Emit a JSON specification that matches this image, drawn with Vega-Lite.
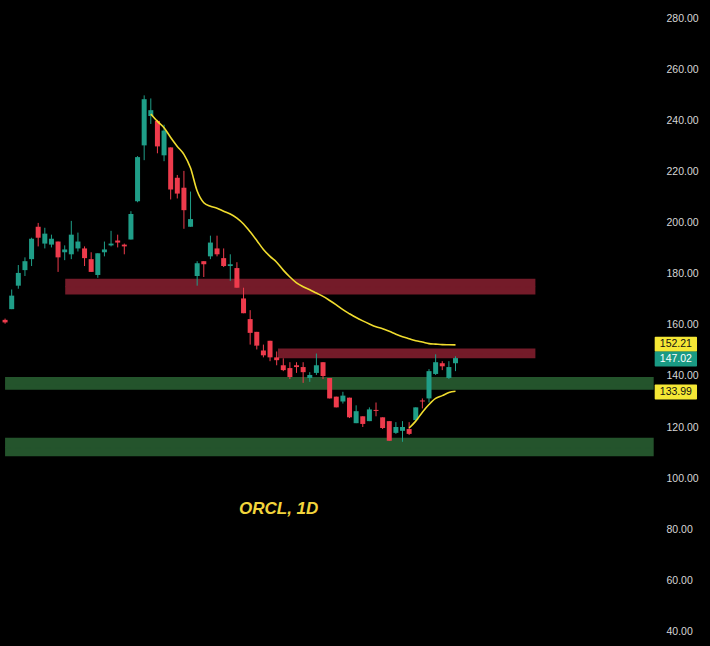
{
  "$schema": "https://vega.github.io/schema/vega-lite/v6.json",
  "width": 700,
  "height": 636,
  "autosize": {"type": "none"},
  "padding": 5,
  "background": "#000000",
  "view": {"stroke": null},
  "config": {"font": "Liberation Sans"},
  "datasets": {
    "candles": [
      {"i": 0, "o": 162.0, "h": 162.5, "l": 160.5, "c": 161.0},
      {"i": 1, "o": 166.2, "h": 173.9, "l": 166.2, "c": 171.5},
      {"i": 2, "o": 175.4, "h": 183.5, "l": 174.2, "c": 180.4},
      {"i": 3, "o": 181.5, "h": 186.5, "l": 179.2, "c": 185.0},
      {"i": 4, "o": 185.8, "h": 194.2, "l": 183.1, "c": 193.8},
      {"i": 5, "o": 198.5, "h": 200.0, "l": 190.8, "c": 194.2},
      {"i": 6, "o": 191.9, "h": 198.1, "l": 190.0, "c": 195.8},
      {"i": 7, "o": 191.5, "h": 195.4, "l": 190.4, "c": 193.8},
      {"i": 8, "o": 192.7, "h": 192.7, "l": 180.8, "c": 186.5},
      {"i": 9, "o": 188.5, "h": 191.2, "l": 185.4, "c": 189.6},
      {"i": 10, "o": 187.7, "h": 200.8, "l": 185.8, "c": 195.4},
      {"i": 11, "o": 190.0, "h": 196.2, "l": 188.8, "c": 192.7},
      {"i": 12, "o": 190.0, "h": 190.8, "l": 183.1, "c": 186.2},
      {"i": 13, "o": 185.8, "h": 188.5, "l": 180.8, "c": 180.8},
      {"i": 14, "o": 179.6, "h": 188.1, "l": 178.5, "c": 188.1},
      {"i": 15, "o": 188.5, "h": 192.7, "l": 186.9, "c": 189.6},
      {"i": 16, "o": 191.2, "h": 196.9, "l": 190.8, "c": 191.9},
      {"i": 17, "o": 193.1, "h": 195.4, "l": 190.4, "c": 192.3},
      {"i": 18, "o": 191.5, "h": 191.9, "l": 187.7, "c": 190.8},
      {"i": 19, "o": 193.5, "h": 204.6, "l": 193.5, "c": 203.5},
      {"i": 20, "o": 208.5, "h": 226.2, "l": 208.1, "c": 225.8},
      {"i": 21, "o": 230.4, "h": 250.0, "l": 224.6, "c": 248.5},
      {"i": 22, "o": 241.9, "h": 248.8, "l": 238.8, "c": 244.2},
      {"i": 23, "o": 240.0, "h": 240.4, "l": 227.3, "c": 230.0},
      {"i": 24, "o": 226.5, "h": 238.5, "l": 224.2, "c": 236.2},
      {"i": 25, "o": 229.6, "h": 229.6, "l": 209.2, "c": 213.1},
      {"i": 26, "o": 217.7, "h": 218.8, "l": 209.6, "c": 211.5},
      {"i": 27, "o": 213.8, "h": 220.4, "l": 197.7, "c": 205.0},
      {"i": 28, "o": 198.5, "h": 212.3, "l": 198.5, "c": 201.5},
      {"i": 29, "o": 179.2, "h": 185.0, "l": 175.4, "c": 184.2},
      {"i": 30, "o": 185.0, "h": 185.0, "l": 178.8, "c": 183.8},
      {"i": 31, "o": 186.9, "h": 195.0, "l": 185.8, "c": 192.3},
      {"i": 32, "o": 190.0, "h": 195.0, "l": 186.9, "c": 187.7},
      {"i": 33, "o": 186.2, "h": 190.0, "l": 182.7, "c": 183.1},
      {"i": 34, "o": 183.1, "h": 187.7, "l": 177.3, "c": 183.8},
      {"i": 35, "o": 182.3, "h": 184.6, "l": 174.6, "c": 174.6},
      {"i": 36, "o": 170.4, "h": 174.6, "l": 164.6, "c": 164.6},
      {"i": 37, "o": 162.3, "h": 165.8, "l": 152.3, "c": 156.9},
      {"i": 38, "o": 157.3, "h": 157.3, "l": 150.4, "c": 151.9},
      {"i": 39, "o": 150.0, "h": 152.3, "l": 147.3, "c": 148.1},
      {"i": 40, "o": 153.8, "h": 153.8, "l": 145.8, "c": 147.3},
      {"i": 41, "o": 147.3, "h": 149.6, "l": 144.2, "c": 146.2},
      {"i": 42, "o": 144.2, "h": 146.9, "l": 141.9, "c": 142.3},
      {"i": 43, "o": 143.1, "h": 145.4, "l": 138.8, "c": 139.6},
      {"i": 44, "o": 144.2, "h": 145.4, "l": 141.2, "c": 143.5},
      {"i": 45, "o": 143.5, "h": 145.4, "l": 137.3, "c": 141.5},
      {"i": 46, "o": 139.2, "h": 141.5, "l": 137.7, "c": 140.4},
      {"i": 47, "o": 141.2, "h": 148.8, "l": 140.4, "c": 144.2},
      {"i": 48, "o": 145.4, "h": 145.4, "l": 138.8, "c": 140.0},
      {"i": 49, "o": 139.2, "h": 139.2, "l": 131.2, "c": 131.2},
      {"i": 50, "o": 131.9, "h": 131.9, "l": 127.7, "c": 127.7},
      {"i": 51, "o": 130.0, "h": 133.8, "l": 129.2, "c": 132.3},
      {"i": 52, "o": 131.5, "h": 131.5, "l": 123.5, "c": 123.8},
      {"i": 53, "o": 121.5, "h": 128.5, "l": 121.5, "c": 126.2},
      {"i": 54, "o": 124.2, "h": 124.2, "l": 120.0, "c": 121.2},
      {"i": 55, "o": 122.3, "h": 127.7, "l": 122.3, "c": 126.9},
      {"i": 56, "o": 126.7, "h": 129.6, "l": 124.2, "c": 126.3},
      {"i": 57, "o": 123.8, "h": 123.8, "l": 119.2, "c": 119.6},
      {"i": 58, "o": 122.3, "h": 122.3, "l": 114.6, "c": 114.6},
      {"i": 59, "o": 117.7, "h": 121.9, "l": 117.3, "c": 120.0},
      {"i": 60, "o": 118.5, "h": 122.3, "l": 114.2, "c": 120.0},
      {"i": 61, "o": 119.2, "h": 121.9, "l": 116.9, "c": 117.3},
      {"i": 62, "o": 122.7, "h": 127.7, "l": 122.3, "c": 127.7},
      {"i": 63, "o": 130.4, "h": 131.2, "l": 127.3, "c": 130.0},
      {"i": 64, "o": 131.2, "h": 142.7, "l": 129.6, "c": 141.9},
      {"i": 65, "o": 140.8, "h": 148.5, "l": 140.4, "c": 145.4},
      {"i": 66, "o": 145.0, "h": 145.8, "l": 142.3, "c": 143.8},
      {"i": 67, "o": 139.2, "h": 145.8, "l": 138.8, "c": 143.5},
      {"i": 68, "o": 145.0, "h": 147.7, "l": 141.9, "c": 147.02}
    ],
    "ma": [
      {"s": "a", "i": 22, "v": 242.7}, {"s": "a", "i": 23, "v": 239.8},
      {"s": "a", "i": 24, "v": 237.3}, {"s": "a", "i": 25, "v": 233.5},
      {"s": "a", "i": 26, "v": 230.0}, {"s": "a", "i": 27, "v": 226.9},
      {"s": "a", "i": 28, "v": 221.5}, {"s": "a", "i": 29, "v": 212.5},
      {"s": "a", "i": 30, "v": 207.9}, {"s": "a", "i": 31, "v": 206.5},
      {"s": "a", "i": 32, "v": 205.8}, {"s": "a", "i": 33, "v": 204.6},
      {"s": "a", "i": 34, "v": 203.5}, {"s": "a", "i": 35, "v": 201.9},
      {"s": "a", "i": 36, "v": 199.6}, {"s": "a", "i": 37, "v": 196.5},
      {"s": "a", "i": 38, "v": 193.1}, {"s": "a", "i": 39, "v": 189.6},
      {"s": "a", "i": 40, "v": 186.9}, {"s": "a", "i": 41, "v": 184.6},
      {"s": "a", "i": 42, "v": 181.5}, {"s": "a", "i": 43, "v": 178.8},
      {"s": "a", "i": 44, "v": 176.5}, {"s": "a", "i": 45, "v": 175.0},
      {"s": "a", "i": 46, "v": 173.8}, {"s": "a", "i": 47, "v": 172.5},
      {"s": "a", "i": 48, "v": 171.2}, {"s": "a", "i": 49, "v": 169.6},
      {"s": "a", "i": 50, "v": 167.9}, {"s": "a", "i": 51, "v": 166.0},
      {"s": "a", "i": 52, "v": 164.4}, {"s": "a", "i": 53, "v": 162.9},
      {"s": "a", "i": 54, "v": 161.6}, {"s": "a", "i": 55, "v": 160.4},
      {"s": "a", "i": 56, "v": 159.3}, {"s": "a", "i": 57, "v": 158.5},
      {"s": "a", "i": 58, "v": 157.5}, {"s": "a", "i": 59, "v": 156.4},
      {"s": "a", "i": 60, "v": 155.4}, {"s": "a", "i": 61, "v": 154.6},
      {"s": "a", "i": 62, "v": 153.8}, {"s": "a", "i": 63, "v": 153.3},
      {"s": "a", "i": 64, "v": 152.7}, {"s": "a", "i": 65, "v": 152.5},
      {"s": "a", "i": 66, "v": 152.3}, {"s": "a", "i": 67, "v": 152.25},
      {"s": "a", "i": 68, "v": 152.21},
      {"s": "b", "i": 61, "v": 119.6}, {"s": "b", "i": 62, "v": 122.3},
      {"s": "b", "i": 63, "v": 125.8}, {"s": "b", "i": 64, "v": 128.8},
      {"s": "b", "i": 65, "v": 131.2}, {"s": "b", "i": 66, "v": 132.3},
      {"s": "b", "i": 67, "v": 133.5}, {"s": "b", "i": 68, "v": 133.99}
    ],
    "zones": [
      {"kind": "res", "x1": 9.08, "x2": 80.06, "lo": 171.9, "hi": 178.1, "mid": 175.0},
      {"kind": "res", "x1": 41.2, "x2": 80.06, "lo": 147.0, "hi": 150.8, "mid": 148.8},
      {"kind": "sup", "x1": 0, "x2": 97.92, "lo": 134.6, "hi": 139.6, "mid": 136.5},
      {"kind": "sup", "x1": 0, "x2": 97.92, "lo": 108.5, "hi": 115.8, "mid": 111.9}
    ],
    "tags": [
      {"p": 152.48, "label": "152.21", "kind": "ma"},
      {"p": 146.69, "label": "147.02", "kind": "last"},
      {"p": 133.76, "label": "133.99", "kind": "ma"}
    ]
  },
  "encoding": {
    "x": {"type": "quantitative", "scale": {"domain": [0.744, 104.91], "nice": false, "zero": false}, "axis": null},
    "y": {
      "type": "quantitative",
      "scale": {"domain": [38.07, 283.47], "nice": false, "zero": false},
      "axis": {
        "orient": "right",
        "values": [40, 60, 80, 100, 120, 140, 160, 180, 200, 220, 240, 260, 280],
        "format": ".2f",
        "title": null,
        "grid": false,
        "domain": false,
        "ticks": false,
        "offset": -39,
        "labelPadding": 0,
        "labelAlign": "left",
        "labelBaseline": "middle",
        "labelColor": "#d6d6d6",
        "labelFont": "Liberation Sans",
        "labelFontSize": 10.5
      }
    }
  },
  "layer": [
    {
      "data": {"name": "zones"},
      "mark": {"type": "rect"},
      "encoding": {
        "x": {"field": "x1", "type": "quantitative"},
        "x2": {"field": "x2"},
        "y": {"field": "lo", "type": "quantitative"},
        "y2": {"field": "hi"},
        "color": {
          "field": "kind", "type": "nominal", "legend": null,
          "scale": {"domain": ["res", "sup"], "range": ["#741b29", "#24542c"]}
        }
      }
    },
    {
      "data": {"name": "zones"},
      "mark": {"type": "rule", "strokeDash": [5, 5], "strokeWidth": 1},
      "encoding": {
        "x": {"field": "x1", "type": "quantitative"},
        "x2": {"field": "x2"},
        "y": {"field": "mid", "type": "quantitative"},
        "color": {
          "field": "kind", "type": "nominal", "legend": null,
          "scale": {"domain": ["res", "sup"], "range": ["#c0559a", "#8c6f8e"]}
        }
      }
    },
    {
      "mark": {"type": "rule", "strokeDash": [1, 3], "strokeWidth": 1, "color": "#6f8090"},
      "encoding": {
        "x": {"datum": 0},
        "x2": {"datum": 97.92},
        "y": {"datum": 147.02}
      }
    },
    {
      "data": {"name": "candles"},
      "mark": {"type": "rule", "strokeWidth": 1},
      "encoding": {
        "x": {"field": "i", "type": "quantitative"},
        "y": {"field": "l", "type": "quantitative"},
        "y2": {"field": "h"},
        "color": {"condition": {"test": "datum.c >= datum.o", "value": "#1f9e88"}, "value": "#ee3b4c"}
      }
    },
    {
      "data": {"name": "candles"},
      "mark": {"type": "bar", "size": 5, "orient": "vertical"},
      "encoding": {
        "x": {"field": "i", "type": "quantitative"},
        "y": {"field": "o", "type": "quantitative"},
        "y2": {"field": "c"},
        "color": {"condition": {"test": "datum.c >= datum.o", "value": "#1f9e88"}, "value": "#ee3b4c"}
      }
    },
    {
      "data": {"name": "ma"},
      "mark": {"type": "line", "strokeWidth": 1.6, "color": "#f0dc2e", "interpolate": "monotone"},
      "encoding": {
        "x": {"field": "i", "type": "quantitative"},
        "y": {"field": "v", "type": "quantitative"},
        "detail": {"field": "s", "type": "nominal"}
      }
    },
    {
      "data": {"values": [{"label": "ORCL, 1D", "i": 41.3, "p": 87.85}]},
      "mark": {"type": "text", "font": "Liberation Sans", "fontSize": 17, "fontWeight": "bold", "fontStyle": "italic", "color": "#f2d53c", "align": "center", "baseline": "middle"},
      "encoding": {
        "x": {"field": "i", "type": "quantitative"},
        "y": {"field": "p", "type": "quantitative"},
        "text": {"field": "label"}
      }
    },
    {
      "data": {"name": "tags"},
      "mark": {"type": "bar", "orient": "horizontal", "size": 15, "cornerRadius": 1},
      "encoding": {
        "x": {"datum": 98.07},
        "x2": {"datum": 104.46},
        "y": {"field": "p", "type": "quantitative"},
        "color": {"condition": {"test": "datum.kind === 'last'", "value": "#1a9a84"}, "value": "#f5e735"}
      }
    },
    {
      "data": {"name": "tags"},
      "mark": {"type": "text", "font": "Liberation Sans", "fontSize": 10.5, "align": "center", "baseline": "middle"},
      "encoding": {
        "x": {"datum": 101.27},
        "y": {"field": "p", "type": "quantitative"},
        "text": {"field": "label"},
        "color": {"condition": {"test": "datum.kind === 'last'", "value": "#ffffff"}, "value": "#111111"}
      }
    }
  ]
}
